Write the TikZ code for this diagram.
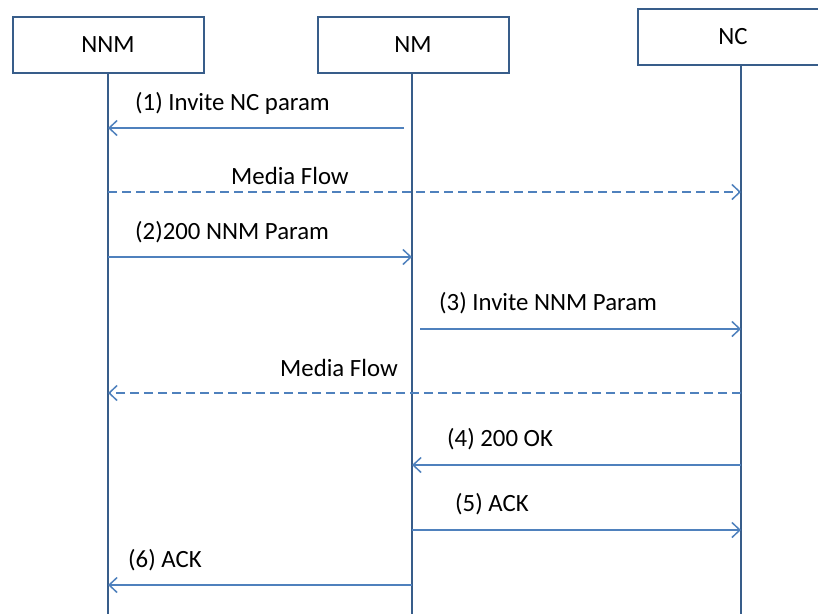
\documentclass[tikz,border=0pt]{standalone}
\usepackage{fontspec}
\setmainfont{Carlito}
\usetikzlibrary{arrows.meta,positioning}
\definecolor{BoxBlue}{RGB}{56,93,138}
\definecolor{MsgBlue}{RGB}{79,129,189}
\tikzstyle{Box} = [rectangle, minimum width=191pt, minimum height=56pt, draw=BoxBlue, line width=2pt, font=\fontsize{24.8}{29}\selectfont]
\tikzstyle{life} = [draw=BoxBlue, line width=2pt]
\tikzstyle{arrow} = [MsgBlue, line width=1.5pt, -{Straight Barb[length=8pt,width=15pt]}]
\tikzstyle{flow} = [arrow, dash pattern=on 9pt off 5pt]
\tikzstyle{Label} = [anchor=west, inner sep=0pt, font=\fontsize{24.8}{29}\selectfont]

\begin{document}
\begin{tikzpicture}[x=1pt,y=-1pt]
\useasboundingbox (0,0) rectangle (818,614);
\node (NNM)[Box] at (108,44.5) {NNM};
\node (NM)[Box, right of = NNM, node distance=305pt] {NM};
\node (NC)[Box, right of = NM, node distance=320pt, yshift=8pt] {NC};
\coordinate (Bottom) at (0,614);
\coordinate (NC line) at ([xshift=8pt]NC.south);

\draw[life](NNM.south)--(NNM.south |- Bottom);
\draw[life]([xshift=-1pt]NM.south)--([xshift=-1pt]NM.south |- Bottom);
\draw[life](NC line)--(NC line |- Bottom);

\foreach \Msg/\Y in {1/128,2/192,3/257,4/329,5/393,6/465,7/530,8/585}{
\coordinate (NNM\Msg) at (NNM.south |- 0,\Y);
\coordinate (NM\Msg) at ([xshift=-1pt]NM.south |- 0,\Y);
\coordinate (NC\Msg) at (NC line |- 0,\Y);
}

\node (Invite NC)[Label] at (135,103) {(1) Invite NC param};
\node (Media Flow A)[Label] at (231,176) {Media Flow};
\node (NNM Param)[Label] at (135,232) {(2)200 NNM Param};
\node (Invite NNM)[Label] at (439,303) {(3) Invite NNM Param};
\node (Media Flow B)[Label] at (280,368) {Media Flow};
\node (OK)[Label] at (447,439) {(4) 200 OK};
\node (ACK NC)[Label] at (455,504) {(5) ACK};
\node (ACK NNM)[Label] at (128,560) {(6) ACK};

\draw[arrow]([xshift=-8pt]NM1)--(NNM1);
\draw[flow](NNM2)--(NC2);
\draw[arrow](NNM3)--(NM3);
\draw[arrow]([xshift=8pt]NM4)--(NC4);
\draw[flow](NC5)--(NNM5);
\draw[arrow](NC6)--(NM6);
\draw[arrow](NM7)--(NC7);
\draw[arrow](NM8)--(NNM8);

\end{tikzpicture}
\end{document}
